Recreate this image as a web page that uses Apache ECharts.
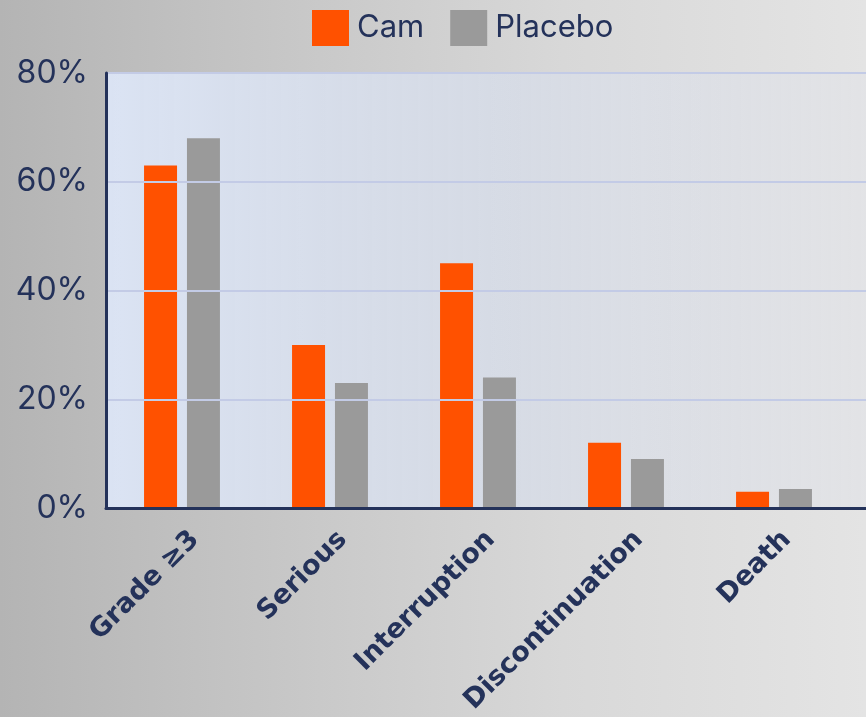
<!DOCTYPE html>
<html>
<head>
<meta charset="utf-8">
<script src="https://cdn.jsdelivr.net/npm/echarts@6/dist/echarts.min.js"></script>
<style>
  html, body { margin: 0; padding: 0; }
  body {
    width: 866px; height: 717px; overflow: hidden;
    background: linear-gradient(to right, #b4b4b4 0%, #c8c8c8 35%, #d8d8d8 65%, #e4e4e4 100%);
  }
  #chart { width: 866px; height: 717px; }
</style>
</head>
<body>
<div id="chart"></div>
<script>
const categories = ['Grade \u22653', 'Serious', 'Interruption', 'Discontinuation', 'Death'];
const seriesNames = ['Cam', 'Placebo'];
const camValues = [63, 30, 45, 12, 3];
const placeboValues = [68, 23, 24, 9, 3.5];
const yMin = 0, yMax = 80, yStep = 20;

const navy = '#24325a';
const font = 'Inter, "DejaVu Sans", sans-serif';
const gridTop = 73, gridBottom = 209;

const chart = echarts.init(document.getElementById('chart'), null, { renderer: 'canvas' });
chart.setOption({
  animation: false,
  legend: {
    data: seriesNames,
    left: 312, top: 10, padding: 0,
    itemWidth: 37, itemHeight: 36, itemGap: 26,
    icon: 'rect',
    textStyle: { color: navy, fontSize: 31, fontFamily: font, padding: [0, 0, 0, 3] }
  },
  grid: [
    { left: 106, right: 0, top: gridTop, bottom: gridBottom, show: true, borderWidth: 0,
      backgroundColor: new echarts.graphic.LinearGradient(0, 0, 1, 0, [
        { offset: 0, color: 'rgba(220,229,246,0.95)' },
        { offset: 0.5, color: 'rgba(214,220,232,0.85)' },
        { offset: 1, color: 'rgba(226,227,231,0.7)' }
      ]) },
    { left: 108, width: 740, top: gridTop, bottom: gridBottom },
    { left: 121, width: 740, top: gridTop, bottom: gridBottom }
  ],
  xAxis: [
    { type: 'category', gridIndex: 0, data: categories, z: 5,
      axisLine: { show: true, lineStyle: { color: navy, width: 3 } },
      axisTick: { show: false }, axisLabel: { show: false }, splitLine: { show: false } },
    { type: 'category', gridIndex: 1, data: categories,
      axisLine: { show: false }, axisTick: { show: false }, axisLabel: { show: false } },
    { type: 'category', gridIndex: 2, data: categories,
      axisLine: { show: false }, axisTick: { show: false },
      axisLabel: { show: true, rotate: 45, margin: 37, interval: 0,
        color: navy, fontSize: 27, fontWeight: 'bold', fontFamily: '"DejaVu Sans", sans-serif' } }
  ],
  yAxis: [
    { type: 'value', gridIndex: 0, min: yMin, max: yMax, interval: yStep, z: 5,
      axisLine: { show: true, lineStyle: { color: navy, width: 3 } },
      axisTick: { show: false },
      axisLabel: { color: navy, fontSize: 32, fontFamily: font, margin: 18,
        formatter: v => v + '%' },
      splitLine: { show: true, lineStyle: { color: '#c3cbe6', width: 2 } } },
    { type: 'value', gridIndex: 1, min: yMin, max: yMax, show: false },
    { type: 'value', gridIndex: 2, min: yMin, max: yMax, show: false }
  ],
  series: [
    { name: seriesNames[0], type: 'bar', xAxisIndex: 1, yAxisIndex: 1, data: camValues,
      barWidth: 33, barGap: '30%', itemStyle: { color: '#ff5100' } },
    { name: seriesNames[1], type: 'bar', xAxisIndex: 1, yAxisIndex: 1, data: placeboValues,
      barWidth: 33, barGap: '30%', itemStyle: { color: '#9a9a9a' } }
  ]
});
</script>
</body>
</html>
